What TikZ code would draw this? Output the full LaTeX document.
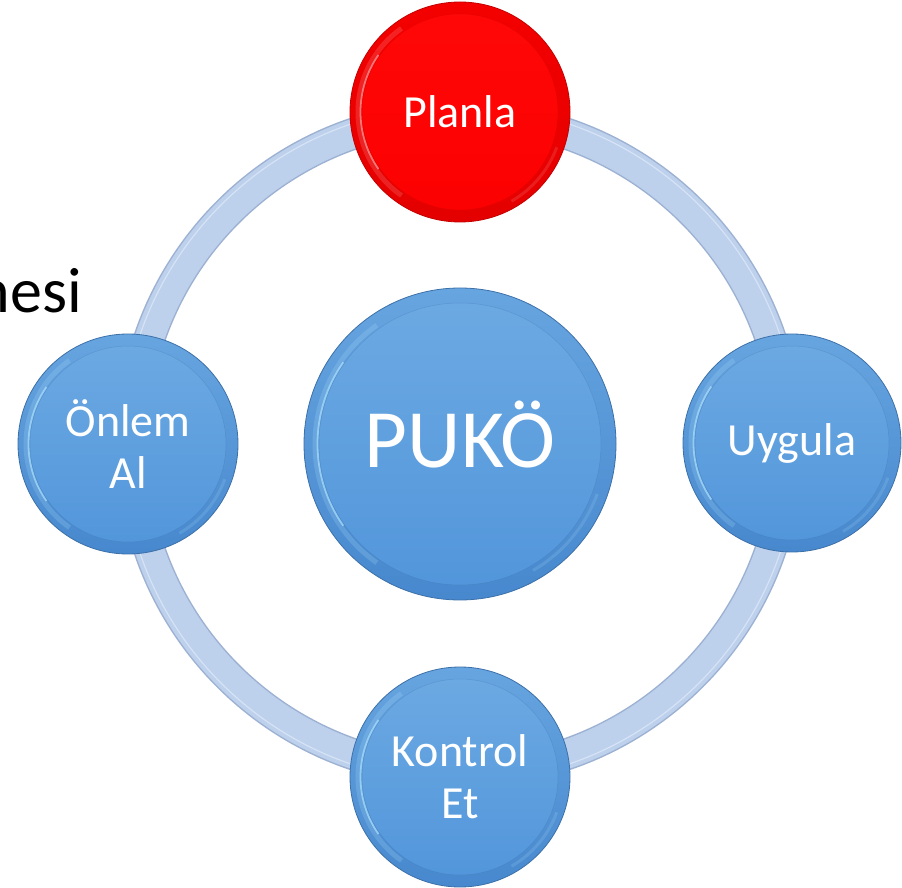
\documentclass[tikz,border=0pt]{standalone}
\usepackage{fontspec}
\setmainfont{Carlito}
\definecolor{ringfill}{HTML}{BDD0EC}
\definecolor{ringedge}{HTML}{9DB2D3}
\definecolor{ringhl}{HTML}{D5E3F5}
\definecolor{btop}{HTML}{67A5E0}
\definecolor{bbot}{HTML}{4788CE}
\definecolor{bitop}{HTML}{6DAAE3}
\definecolor{bibot}{HTML}{5195DA}
\definecolor{bedge}{HTML}{3C70A8}
\definecolor{bhl}{HTML}{A8DCF9}
\definecolor{rtop}{HTML}{F40000}
\definecolor{rbot}{HTML}{E40000}
\definecolor{ritop}{HTML}{FF0808}
\definecolor{ribot}{HTML}{FC0000}
\definecolor{redge}{HTML}{C40000}
\definecolor{rhl}{HTML}{FF9E9E}
\newcommand\lblfont{\fontsize{46}{52}\selectfont}
\newcommand\bigfont{\fontsize{83}{90}\selectfont}
\newcommand\sidefont{\fontsize{64}{70}\selectfont}
\tikzset{
  btnbase/.style={circle, inner sep=0pt, text=white, align=center, line width=0.8pt, font=\lblfont},
  bluebtn/.style 2 args={btnbase, minimum size=#1, draw=bedge, top color=btop, bottom color=bbot,
    path picture={
      \shade[top color=bitop, bottom color=bibot] (path picture bounding box.center) circle[radius=#2];
      \draw[bhl, line width=5pt, opacity=.22] (path picture bounding box.center) ++(125:{#2+4pt}) arc[start angle=125, end angle=235, radius={#2+4pt}];
      \draw[bhl, line width=1.8pt, opacity=.75] (path picture bounding box.center) ++(145:{#2+1.5pt}) arc[start angle=145, end angle=215, radius={#2+1.5pt}];
      \draw[bhl, line width=3pt, opacity=.18] (path picture bounding box.center) ++(300:{#2+5pt}) arc[start angle=300, end angle=340, radius={#2+5pt}];
      \draw[bedge, line width=0.5pt, opacity=.3] (path picture bounding box.center) circle[radius=#2];
    }},
  redbtn/.style 2 args={btnbase, minimum size=#1, draw=redge, top color=rtop, bottom color=rbot,
    path picture={
      \shade[top color=ritop, bottom color=ribot] (path picture bounding box.center) circle[radius=#2];
      \draw[rhl, line width=5pt, opacity=.22] (path picture bounding box.center) ++(125:{#2+4pt}) arc[start angle=125, end angle=235, radius={#2+4pt}];
      \draw[rhl, line width=1.8pt, opacity=.7] (path picture bounding box.center) ++(145:{#2+1.5pt}) arc[start angle=145, end angle=215, radius={#2+1.5pt}];
      \draw[rhl, line width=3pt, opacity=.18] (path picture bounding box.center) ++(300:{#2+5pt}) arc[start angle=300, end angle=340, radius={#2+5pt}];
      \draw[redge, line width=0.5pt, opacity=.25] (path picture bounding box.center) circle[radius=#2];
    }},
  ringedgeline/.style={draw=ringedge, line width=32pt},
  ringband/.style={draw=ringfill, line width=29pt},
  ringshine/.style={draw=ringhl, line width=1.2pt},
}
\begin{document}
\begin{tikzpicture}[x=1pt,y=1pt]
\useasboundingbox (0,0) rectangle (902,887);
\clip (0,0) rectangle (902,887);
\fill[white] (0,0) rectangle (902,887);
% outer ring
\coordinate (ringc) at (460,443);
\path[ringedgeline] (ringc) circle[radius=328];
\path[ringband] (ringc) circle[radius=328];
\path[ringshine] (ringc) circle[radius=338];
% side text (cut off at the left edge, as in the reference)
\node[anchor=base east, inner sep=0pt, font=\sidefont, text=black] (nesi) at (82,574) {nesi};
% buttons
\node[redbtn={220pt}{98pt}] (plan) at (460,775) {Planla};
\node[bluebtn={218pt}{97pt}] (uyg) at (792,444) {Uygula};
\node[bluebtn={220pt}{98pt}] (kon) at (460,110) {Kontrol\\Et};
\node[bluebtn={220pt}{98pt}] (onl) at (128,443) {Önlem\\Al};
\node[bluebtn={312pt}{141pt}, font=\bigfont, text depth=20pt] (puko) at (460,443) {PUKÖ};
\end{tikzpicture}
\end{document}
